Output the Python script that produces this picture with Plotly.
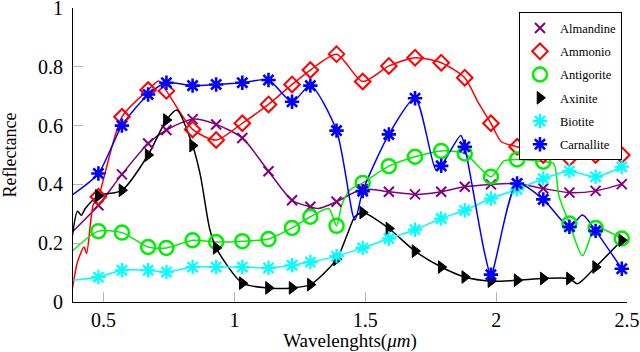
import plotly.graph_objects as go

# ---------------- data ----------------
wavelength = [0.38, 0.48, 0.57, 0.67, 0.74, 0.84, 0.93, 1.03, 1.13, 1.22, 1.29, 1.39,
              1.49, 1.59, 1.69, 1.79, 1.88, 1.98, 2.08, 2.18, 2.28, 2.38, 2.48]

almandine = [0.238, 0.329, 0.434, 0.539, 0.585, 0.622, 0.604, 0.558, 0.445, 0.346, 0.324, 0.341,
             0.384, 0.375, 0.366, 0.375, 0.392, 0.400, 0.403, 0.386, 0.372, 0.378, 0.401]
ammonio = [0.040, 0.358, 0.630, 0.721, 0.718, 0.587, 0.551, 0.608, 0.672, 0.740, 0.789, 0.843,
           0.750, 0.803, 0.831, 0.814, 0.763, 0.608, 0.528, 0.500, 0.490, 0.500, 0.500]
antigorite = [0.173, 0.241, 0.236, 0.187, 0.184, 0.210, 0.204, 0.207, 0.214, 0.252, 0.290, 0.259,
              0.405, 0.462, 0.494, 0.514, 0.505, 0.426, 0.485, 0.477, 0.267, 0.252, 0.216]
axinite = [0.221, 0.361, 0.380, 0.500, 0.619, 0.532, 0.184, 0.064, 0.048, 0.048, 0.059, 0.145,
           0.304, 0.250, 0.173, 0.119, 0.085, 0.071, 0.074, 0.080, 0.080, 0.119, 0.210]
biotite = [0.074, 0.085, 0.108, 0.108, 0.102, 0.119, 0.119, 0.119, 0.116, 0.125, 0.136, 0.156,
           0.184, 0.216, 0.246, 0.284, 0.312, 0.352, 0.383, 0.420, 0.445, 0.426, 0.460]
carnallite = [0.364, 0.437, 0.600, 0.706, 0.746, 0.736, 0.740, 0.746, 0.755, 0.681, 0.736, 0.583,
              0.377, 0.570, 0.693, 0.463, 0.528, 0.093, 0.403, 0.349, 0.256, 0.242, 0.113]

# intermediate (unmarked) samples of the continuous spectra
almandine_extra_wl = [1.32]
almandine_extra = [0.318]
ammonio_extra_wl = [0.40, 0.425, 0.435, 0.46, 0.71, 1.93, 2.02]
ammonio_extra = [0.136, 0.187, 0.165, 0.330, 0.752, 0.681, 0.545]
antigorite_extra_wl = [1.36, 1.41, 1.44, 2.03, 2.22, 2.24, 2.33]
antigorite_extra = [0.318, 0.330, 0.380, 0.480, 0.470, 0.360, 0.157]
axinite_extra_wl = [0.40, 0.415, 0.43, 0.78, 0.87, 0.905, 1.43, 1.46, 2.31]
axinite_extra = [0.309, 0.295, 0.318, 0.653, 0.430, 0.250, 0.227, 0.290, 0.062]
biotite_extra_wl = []
biotite_extra = []
carnallite_extra_wl = [1.46, 1.77, 1.865, 1.955, 2.33]
carnallite_extra = [0.279, 0.449, 0.566, 0.170, 0.296]

x_ticks = [0.5, 1, 1.5, 2, 2.5]
x_tick_labels = ["0.5", "1", "1.5", "2", "2.5"]
y_ticks = [0, 0.2, 0.4, 0.6, 0.8, 1]
y_tick_labels = ["0", "0.2", "0.4", "0.6", "0.8", "1"]

series = [
    ("Almandine", almandine, almandine_extra_wl, almandine_extra, "#800080", "x-thin-open", 10, 2),
    ("Ammonio", ammonio, ammonio_extra_wl, ammonio_extra, "#ff0000", "diamond-open", 12, 2),
    ("Antigorite", antigorite, antigorite_extra_wl, antigorite_extra, "#00ee00", "circle-open", 14, 2.5),
    ("Axinite", axinite, axinite_extra_wl, axinite_extra, "#000000", "triangle-right", 11, 1),
    ("Biotite", biotite, biotite_extra_wl, biotite_extra, "#00ffff", "asterisk-open", 12, 2.2),
    ("Carnallite", carnallite, carnallite_extra_wl, carnallite_extra, "#0000ff", "asterisk-open", 12, 2.6),
]

fig = go.Figure()
FONT = "Liberation Serif, Times New Roman, serif"

for name, vals, ewl, evals, color, sym, size, lw in series:
    pts = sorted(zip(wavelength + ewl, vals + evals))
    fig.add_trace(go.Scatter(
        x=[p[0] for p in pts], y=[p[1] for p in pts], mode="lines",
        line=dict(color=color, width=1.5, shape="spline", smoothing=0.7),
        showlegend=False, hoverinfo="skip"))
for name, vals, ewl, evals, color, sym, size, lw in series:
    fig.add_trace(go.Scatter(
        x=wavelength, y=vals, mode="markers", name=name,
        marker=dict(symbol=sym, size=size, color=color, line=dict(width=lw, color=color)),
        legendgroup=name, cliponaxis=False))

fig.update_layout(
    width=640, height=352,
    margin=dict(l=73, r=13, t=8, b=50, autoexpand=False),
    paper_bgcolor="white", plot_bgcolor="white",
    font=dict(family=FONT, size=20, color="black"),
    showlegend=True,
    legend=dict(x=0.805, y=0.985, xanchor="left", yanchor="top",
                bgcolor="white", bordercolor="black", borderwidth=1,
                font=dict(family=FONT, size=12.5), tracegroupgap=4,
                entrywidth=60, entrywidthmode="pixels"),
    xaxis=dict(range=[0.383, 2.5], tickvals=x_ticks, ticktext=x_tick_labels,
               ticks="inside", ticklen=10, tickcolor="#b4b4b4", tickwidth=1,
               ticklabeloverflow="allow",
               showline=True, linecolor="black", linewidth=1.2,
               showgrid=False, zeroline=False, automargin=False,
               title=dict(text="Wavelenghts(<i>μm</i>)", standoff=2,
                          font=dict(family=FONT, size=19))),
    yaxis=dict(range=[0, 1], tickvals=y_ticks, ticktext=y_tick_labels,
               ticks="inside", ticklen=10, tickcolor="#b4b4b4", tickwidth=1,
               ticklabelstandoff=5, ticklabeloverflow="allow",
               showline=True, linecolor="black", linewidth=1.2,
               showgrid=False, zeroline=False, automargin=False,
               title=dict(text="Reflectance", standoff=20,
                          font=dict(family=FONT, size=18))),
)

# remove the browser's default page margin so the figure fills the window
fig.write_html("out.html", config={"displayModeBar": False},
               post_script="document.body.style.margin='0';")
